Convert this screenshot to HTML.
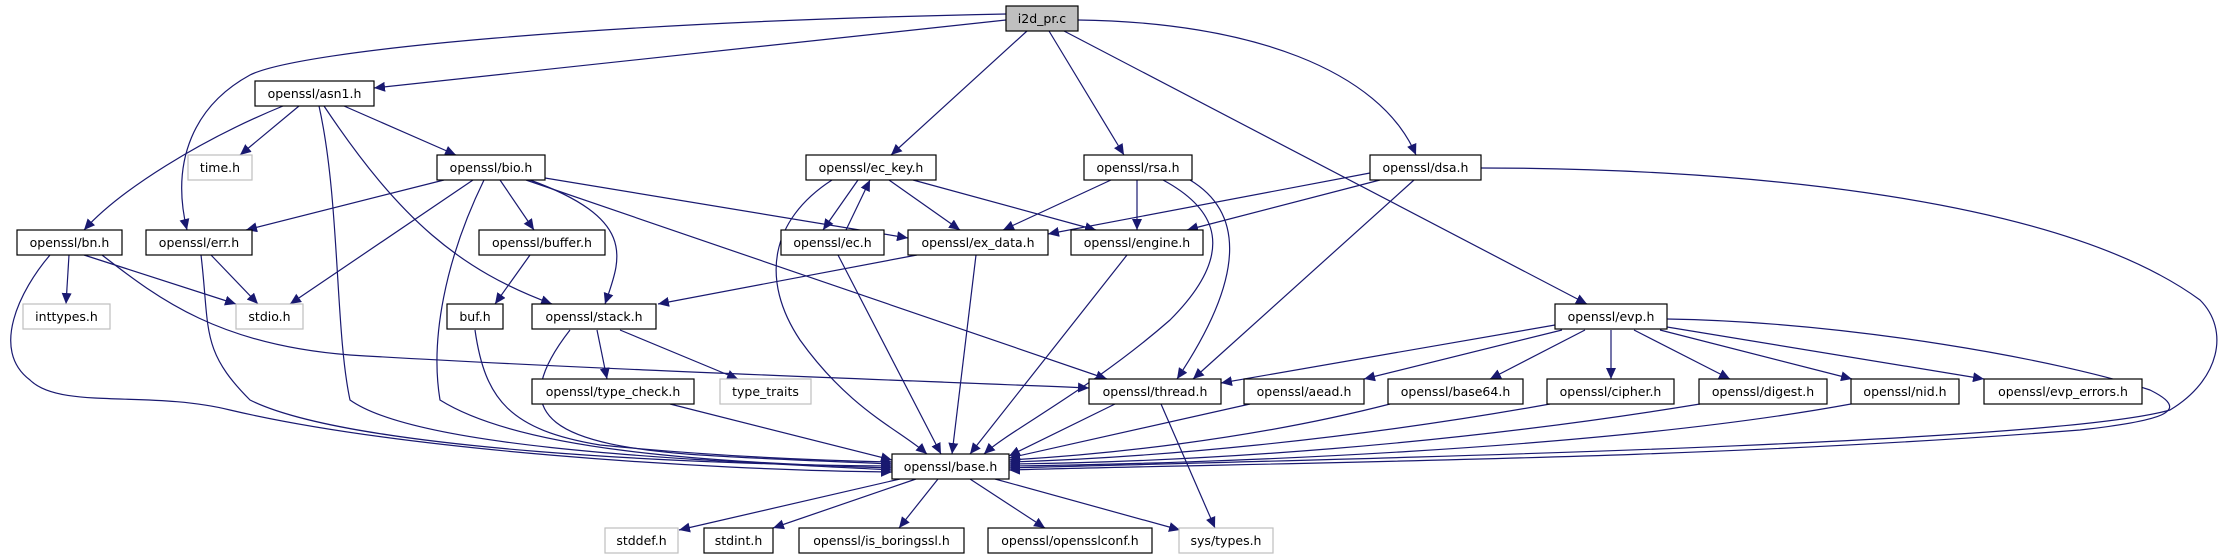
<!DOCTYPE html>
<html><head><meta charset="utf-8"><style>
html,body{margin:0;padding:0;background:#fff;}
svg{display:block;}
text{font-family:"DejaVu Sans","Liberation Sans",sans-serif;font-size:12.5px;fill:#000;}
</style></head><body>
<svg width="2218" height="560" viewBox="0 0 2218 560" xmlns="http://www.w3.org/2000/svg">
<defs>
<marker id="a" markerUnits="userSpaceOnUse" markerWidth="12" markerHeight="10" refX="11" refY="5" orient="auto">
<path d="M0,0 L11,5 L0,10 z" fill="#191970"/>
</marker>
</defs>
<g fill="none" stroke="#191970" stroke-width="1.2" marker-end="url(#a)">
<!-- i2d_pr.c -->
<path d="M1006,20 L374,88"/>
<path d="M1006,14 C600,22 300,50 250,75 C195,105 170,160 187,230"/>
<path d="M1027,31 L891,155"/>
<path d="M1049,31 L1124,155"/>
<path d="M1064,31 L1587,304"/>
<path d="M1078,20 C1250,22 1380,70 1416,155"/>
<!-- asn1 -->
<path d="M283,106 C200,140 120,190 84,230"/>
<path d="M299,106 L240,155"/>
<path d="M344,106 L456,155"/>
<path d="M319,106 C340,200 335,330 350,400 C420,450 700,460 892,470"/>
<path d="M324,106 C400,220 460,270 552,304"/>
<!-- bio -->
<path d="M444,180 L246,230"/>
<path d="M473,180 L290,304"/>
<path d="M484,180 C445,260 430,340 440,400 C520,450 700,462 892,468"/>
<path d="M500,180 L534,230"/>
<path d="M530,180 C640,220 620,260 605,304"/>
<path d="M526,180 L1107,379"/>
<path d="M545,178 L908,238"/>
<!-- bn -->
<path d="M69,255 L66,304"/>
<path d="M84,255 L236,304"/>
<path d="M50,255 C20,290 -10,350 30,380 C60,410 150,390 230,410 C400,450 700,470 892,472"/>
<path d="M102,255 C160,300 220,345 350,355 C600,370 900,380 1089,388"/>
<!-- err -->
<path d="M211,255 L258,304"/>
<path d="M201,255 C210,330 200,350 250,400 C350,450 700,465 892,466"/>
<!-- buffer/buf -->
<path d="M530,255 L495,304"/>
<path d="M475,330 C485,400 510,430 600,445 C700,455 800,460 892,462"/>
<!-- stack -->
<path d="M570,330 C500,420 560,445 700,455 C780,460 850,462 892,464"/>
<path d="M597,330 L607,379"/>
<path d="M620,330 L738,379"/>
<path d="M670,404 L892,460"/>
<!-- ec_key -->
<path d="M858,180 L823,230"/>
<path d="M832,180 C770,220 760,280 800,340 C850,410 900,430 927,454"/>
<path d="M889,180 L960,230"/>
<path d="M913,180 L1096,230"/>
<path d="M846,230 L870,180"/>
<path d="M838,255 L941,454"/>
<!-- ex_data -->
<path d="M917,255 L658,304"/>
<path d="M976,255 L952,454"/>
<path d="M1127,255 L970,454"/>
<!-- rsa -->
<path d="M1111,180 L1003,230"/>
<path d="M1137,180 L1137,230"/>
<path d="M1163,180 C1200,200 1250,240 1170,320 C1090,390 1010,430 984,454"/>
<path d="M1190,180 C1240,210 1250,270 1177,379"/>
<!-- dsa -->
<path d="M1370,173 L1048,234"/>
<path d="M1380,180 L1187,230"/>
<path d="M1414,180 L1193,379"/>
<path d="M1481,168 C1700,168 2050,190 2200,300 C2230,330 2220,380 2170,410 C2050,445 1300,460 1009,468"/>
<!-- evp -->
<path d="M1555,325 L1221,383"/>
<path d="M1562,330 L1364,379"/>
<path d="M1585,330 L1490,379"/>
<path d="M1611,330 L1611,379"/>
<path d="M1634,330 L1730,379"/>
<path d="M1660,330 L1852,379"/>
<path d="M1667,327 L1984,379"/>
<path d="M1667,319 C1850,322 2060,360 2150,390 C2190,410 2170,420 2080,430 C1700,460 1300,462 1009,470"/>
<!-- to base -->
<path d="M1115,404 L1009,456"/>
<path d="M1161,404 L1215,528"/>
<path d="M1250,404 L1009,458"/>
<path d="M1390,404 C1250,440 1100,455 1009,460"/>
<path d="M1550,404 C1350,440 1150,458 1009,462"/>
<path d="M1700,404 C1450,445 1200,462 1009,464"/>
<path d="M1851,404 C1600,450 1200,464 1009,466"/>
<!-- base out -->
<path d="M900,479 L679,530"/>
<path d="M916,479 L773,528"/>
<path d="M938,479 L899,528"/>
<path d="M970,479 L1045,528"/>
<path d="M995,479 L1180,530"/>
</g>
<g stroke-width="1.2">
<rect x="1006" y="6" width="72" height="25" fill="#bfbfbf" stroke="#000"/>
<rect x="255" y="81" width="119" height="25" fill="#fff" stroke="#000"/>
<rect x="188" y="155" width="64" height="25" fill="#fff" stroke="#bfbfbf"/>
<rect x="437" y="155" width="108" height="25" fill="#fff" stroke="#000"/>
<rect x="806" y="155" width="130" height="25" fill="#fff" stroke="#000"/>
<rect x="1084" y="155" width="108" height="25" fill="#fff" stroke="#000"/>
<rect x="1370" y="155" width="111" height="25" fill="#fff" stroke="#000"/>
<rect x="17" y="230" width="105" height="25" fill="#fff" stroke="#000"/>
<rect x="146" y="230" width="106" height="25" fill="#fff" stroke="#000"/>
<rect x="479" y="230" width="126" height="25" fill="#fff" stroke="#000"/>
<rect x="781" y="230" width="103" height="25" fill="#fff" stroke="#000"/>
<rect x="908" y="230" width="140" height="25" fill="#fff" stroke="#000"/>
<rect x="1071" y="230" width="132" height="25" fill="#fff" stroke="#000"/>
<rect x="23" y="304" width="87" height="25" fill="#fff" stroke="#bfbfbf"/>
<rect x="236" y="304" width="67" height="25" fill="#fff" stroke="#bfbfbf"/>
<rect x="447" y="304" width="56" height="25" fill="#fff" stroke="#000"/>
<rect x="532" y="304" width="124" height="25" fill="#fff" stroke="#000"/>
<rect x="1555" y="304" width="112" height="25" fill="#fff" stroke="#000"/>
<rect x="532" y="379" width="162" height="25" fill="#fff" stroke="#000"/>
<rect x="720" y="379" width="91" height="25" fill="#fff" stroke="#bfbfbf"/>
<rect x="1089" y="379" width="132" height="25" fill="#fff" stroke="#000"/>
<rect x="1244" y="379" width="120" height="25" fill="#fff" stroke="#000"/>
<rect x="1388" y="379" width="135" height="25" fill="#fff" stroke="#000"/>
<rect x="1547" y="379" width="127" height="25" fill="#fff" stroke="#000"/>
<rect x="1699" y="379" width="128" height="25" fill="#fff" stroke="#000"/>
<rect x="1851" y="379" width="108" height="25" fill="#fff" stroke="#000"/>
<rect x="1984" y="379" width="158" height="25" fill="#fff" stroke="#000"/>
<rect x="892" y="454" width="117" height="25" fill="#fff" stroke="#000"/>
<rect x="605" y="528" width="73" height="25" fill="#fff" stroke="#bfbfbf"/>
<rect x="704" y="528" width="69" height="25" fill="#fff" stroke="#000"/>
<rect x="799" y="528" width="165" height="25" fill="#fff" stroke="#000"/>
<rect x="988" y="528" width="164" height="25" fill="#fff" stroke="#000"/>
<rect x="1179" y="528" width="94" height="25" fill="#fff" stroke="#bfbfbf"/>
</g>
<g text-anchor="middle">
<text x="1042" y="23">i2d_pr.c</text>
<text x="314.5" y="98">openssl/asn1.h</text>
<text x="220" y="172">time.h</text>
<text x="491" y="172">openssl/bio.h</text>
<text x="871" y="172">openssl/ec_key.h</text>
<text x="1138" y="172">openssl/rsa.h</text>
<text x="1425.5" y="172">openssl/dsa.h</text>
<text x="69.5" y="247">openssl/bn.h</text>
<text x="199" y="247">openssl/err.h</text>
<text x="542" y="247">openssl/buffer.h</text>
<text x="832.5" y="247">openssl/ec.h</text>
<text x="978" y="247">openssl/ex_data.h</text>
<text x="1137" y="247">openssl/engine.h</text>
<text x="66.5" y="321">inttypes.h</text>
<text x="269.5" y="321">stdio.h</text>
<text x="475" y="321">buf.h</text>
<text x="594" y="321">openssl/stack.h</text>
<text x="1611" y="321">openssl/evp.h</text>
<text x="613" y="396">openssl/type_check.h</text>
<text x="765.5" y="396">type_traits</text>
<text x="1155" y="396">openssl/thread.h</text>
<text x="1304" y="396">openssl/aead.h</text>
<text x="1455.5" y="396">openssl/base64.h</text>
<text x="1610.5" y="396">openssl/cipher.h</text>
<text x="1763" y="396">openssl/digest.h</text>
<text x="1905" y="396">openssl/nid.h</text>
<text x="2063" y="396">openssl/evp_errors.h</text>
<text x="950.5" y="471">openssl/base.h</text>
<text x="641.5" y="545">stddef.h</text>
<text x="738.5" y="545">stdint.h</text>
<text x="881.5" y="545">openssl/is_boringssl.h</text>
<text x="1070" y="545">openssl/opensslconf.h</text>
<text x="1226" y="545">sys/types.h</text>
</g>
</svg>
</body></html>
